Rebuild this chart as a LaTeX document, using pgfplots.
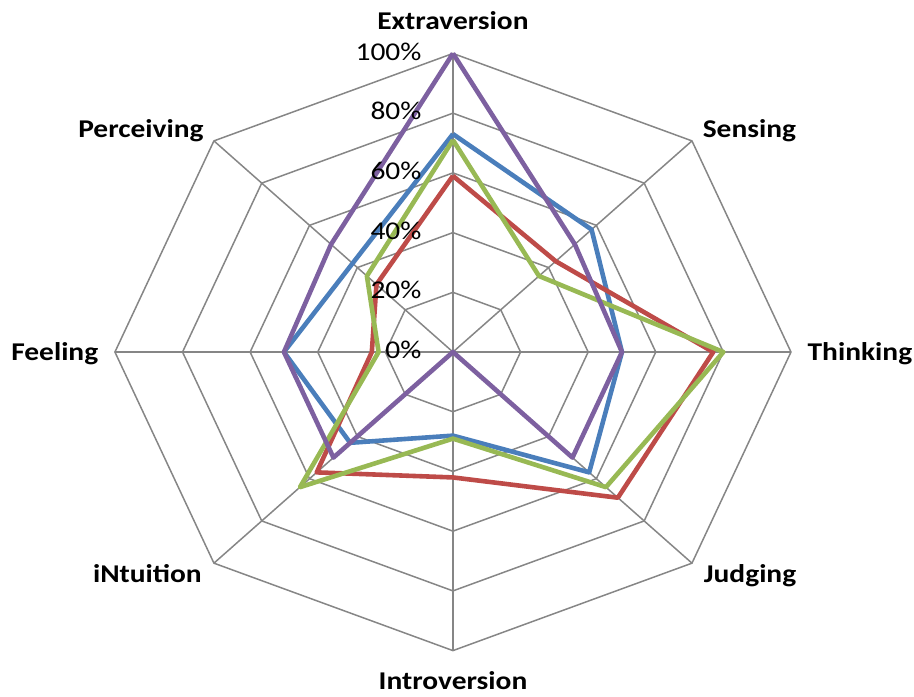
\documentclass[border=0pt]{standalone}
\usepackage{pgfplots}
\pgfplotsset{compat=1.18}
\usepackage{pgfplotstable}
\usepackage{fontspec}
\setmainfont{Carlito}

\definecolor{sBlue}{HTML}{4A7EBB}
\definecolor{sRed}{HTML}{BE4B48}
\definecolor{sGreen}{HTML}{98B954}
\definecolor{sPurple}{HTML}{7D60A0}
\definecolor{gridgray}{RGB}{134,134,134}

% spoke index i: 0 Extraversion, 1 Sensing, 2 Thinking, 3 Judging,
% 4 Introversion, 5 iNtuition, 6 Feeling, 7 Perceiving (8 closes the ring)
\pgfplotstableread{
i v
0 73
1 58
2 50
3 57
4 28
5 43
6 50
7 42
8 73
}\tblBlue
\pgfplotstableread{
i v
0 59
1 43
2 77
3 69
4 42
5 57
6 24
7 32
8 59
}\tblRed
\pgfplotstableread{
i v
0 71
1 36
2 80
3 64
4 29
5 64
6 22
7 36
8 71
}\tblGreen
\pgfplotstableread{
i v
0 100
1 51
2 50
3 50
4 0
5 50
6 50
7 51
8 100
}\tblPurple

\newcommand{\lblfont}{\fontsize{12.8}{15}\selectfont}

\begin{document}
\begin{tikzpicture}
\begin{axis}[
  scale only axis,
  width=457pt, height=348pt,
  xmin=-134, xmax=136.4,
  ymin=-115.2, ymax=117.9,
  hide axis,
  clip=false,
  radar/.style={line width=2.3pt, line join=round, no markers},
  table/x expr={\thisrow{v}*sin(45*\thisrow{i})},
  table/y expr={\thisrow{v}*cos(45*\thisrow{i})},
]
% page frame
\path (axis cs:-134,-115.2) rectangle (axis cs:136.4,117.9);
% octagonal rings
\pgfplotsinvokeforeach{20,40,60,80,100}{
  \draw[gridgray, line width=0.75pt]
    (axis cs:0,#1) -- (axis cs:{0.70711*#1},{0.70711*#1}) --
    (axis cs:#1,0) -- (axis cs:{0.70711*#1},{-0.70711*#1}) --
    (axis cs:0,-#1) -- (axis cs:{-0.70711*#1},{-0.70711*#1}) --
    (axis cs:-#1,0) -- (axis cs:{-0.70711*#1},{0.70711*#1}) -- cycle;
}
% spokes
\pgfplotsinvokeforeach{0,1,2,3,4,5,6,7}{
  \draw[gridgray, line width=0.75pt]
    (axis cs:0,0) -- (axis cs:{100*sin(45*#1)},{100*cos(45*#1)});
}

\addplot[radar, sBlue]   table {\tblBlue};
\addplot[radar, sRed]    table {\tblRed};
\addplot[radar, sGreen]  table {\tblGreen};
\addplot[radar, sPurple] table {\tblPurple};

% scale labels
\pgfplotsinvokeforeach{0,20,40,60,80,100}{
  \node[anchor=base east, inner sep=0pt, font=\lblfont, xscale=1.15]
    at (axis cs:-9.2,{#1-2.2}) {#1\%};
}

% category labels
\begin{scope}[every node/.style={anchor=base, inner sep=0pt,
    font=\lblfont\bfseries, xscale=1.15}]
\node at (axis cs:0,107.9)      {Extraversion};
\node at (axis cs:87.7,71.8)    {Sensing};
\node at (axis cs:120.4,-2.9)   {Thinking};
\node at (axis cs:87.9,-77.1)   {Judging};
\node at (axis cs:0,-113.1)     {Introversion};
\node at (axis cs:-90.4,-77.1)  {iNtuition};
\node at (axis cs:-117.8,-2.9)  {Feeling};
\node at (axis cs:-92.3,71.8)   {Perceiving};
\end{scope}
\end{axis}
\end{tikzpicture}
\end{document}
